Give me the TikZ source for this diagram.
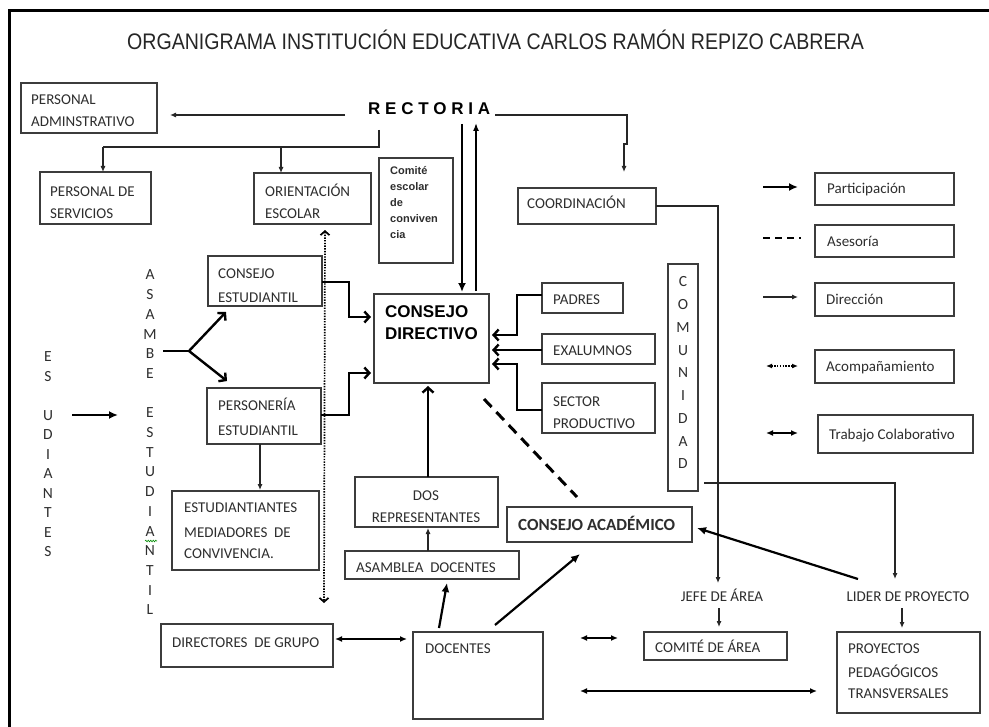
\documentclass[tikz,border=0pt]{standalone}
\usepackage{graphicx}
\usepackage{fontspec}
\setmainfont{Carlito}
\newfontfamily\arialf{Liberation Sans}
\usetikzlibrary{arrows.meta,decorations.pathmorphing}
\definecolor{ink}{HTML}{2E2E2E}
\definecolor{edge}{HTML}{3C3C3C}
\newcommand\bx[5]{\node[boxst, anchor=north west, minimum width={(#4-#2)*1bp}, minimum height={(#5-#3)*1bp}] (#1) at (#2,#3) {};}
\begin{document}
\begin{tikzpicture}[x=1bp,y=-1bp,
  boxst/.style={draw=edge, line width=1.3bp, inner sep=0pt, outer sep=0pt},
  txt/.style={inner sep=0pt, anchor=base west, text=ink, font=\fontsize{15bp}{18bp}\selectfont},
  txtc/.style={txt, anchor=base},
  vlet/.style={inner sep=0pt, text=ink, font=\fontsize{15.5bp}{16bp}\selectfont},
  bolda/.style={inner sep=0pt, anchor=base west, text=black, font=\arialf\bfseries\fontsize{17bp}{20bp}\selectfont},
  smallb/.style={inner sep=0pt, anchor=base west, text=ink, font=\arialf\bfseries\fontsize{11bp}{13bp}\selectfont},
  plain/.style={line width=1.1bp, draw=black!85},
  dirthin/.style={plain, -{Latex[length=6bp,width=5bp]}},
  partb/.style={line width=2.4bp, -{Straight Barb[length=5bp,width=11bp]}},
  partf/.style={line width=2.4bp, -{Latex[length=9bp,width=8bp]}},
  collab/.style={line width=1.5bp, {Latex[length=7bp,width=6bp]}-{Latex[length=7bp,width=6bp]}},
  acomp/.style={line width=1.7bp, dash pattern=on 1.4bp off 1.3bp, {Straight Barb[length=4bp,width=9bp]}-{Straight Barb[length=4bp,width=9bp]}},
  acompl/.style={line width=1.3bp, dash pattern=on 1.4bp off 1.4bp, {Latex[length=6bp,width=5bp]}-{Latex[length=6bp,width=5bp]}},
  asesor/.style={line width=3bp, dash pattern=on 11bp off 7bp}
]
\useasboundingbox (0,0) rectangle (989,727);
\fill[white] (0,0) rectangle (989,727);
% frame
\draw[line width=3bp] (9,732) -- (9,11) -- (994,11);

% title
\node[inner sep=0pt, anchor=base west, text=black!85, font=\arialf\fontsize{22.5bp}{27bp}\selectfont] (title) at (127,50)
  {\scalebox{0.87}[1]{ORGANIGRAMA INSTITUCIÓN EDUCATIVA CARLOS RAMÓN REPIZO CABRERA}};

% RECTORIA
\node[bolda] (rect) at (368,115) {R E C T O R I A};

% boxes
\bx{pa}{21}{83}{157}{133}
\bx{ps}{40}{172}{151}{224}
\bx{oe}{254}{173}{371}{224}
\bx{cec}{379}{158}{453}{263}
\bx{co}{518}{188}{656}{224}
\bx{lp}{815}{173}{954}{205}
\bx{la}{815}{225}{954}{257}
\bx{ld}{815}{283}{954}{316}
\bx{lc}{815}{350}{954}{383}
\bx{lt}{818}{415}{973}{453}
\bx{cest}{208}{256}{322}{306}
\bx{pers}{207}{388}{321}{444}
\bx{cd}{374}{294}{489}{383}
\bx{pad}{542}{283}{623}{313}
\bx{exa}{542}{334}{655}{364}
\bx{sec}{542}{383}{655}{433}
\bx{comu}{668}{264}{698}{491}
\bx{med}{172}{491}{319}{570}
\bx{dos}{355}{477}{498}{527}
\bx{asd}{345}{551}{519}{579}
\bx{dgr}{161}{624}{333}{667}
\bx{doc}{413}{632}{543}{719}
\bx{ca}{507}{507}{692}{542}
\bx{cda}{644}{632}{787}{660}
\bx{ppt}{837}{632}{980}{713}

% box texts
\node[txt] (pa1) at (31,105) {PERSONAL};
\node[txt] (pa2) at (31,127) {ADMINSTRATIVO};
\node[txt] (ps1) at (50,197) {PERSONAL DE};
\node[txt] (ps2) at (50,218) {SERVICIOS};
\node[txt] (oe1) at (265,197) {ORIENTACIÓN};
\node[txt] (oe2) at (265,218) {ESCOLAR};
\node[smallb] (cec1) at (390,175) {Comité};
\node[smallb] (cec2) at (390,191) {escolar};
\node[smallb] (cec3) at (390,206) {de};
\node[smallb] (cec4) at (390,222) {conviven};
\node[smallb] (cec5) at (390,238) {cia};
\node[txt] (co1) at (527,208) {COORDINACIÓN};
\node[txt] (lp1) at (827,194) {Participación};
\node[txt] (la1) at (827,246) {Asesoría};
\node[txt] (ld1) at (826,304) {Dirección};
\node[txt] (lc1) at (826,371) {Acompañamiento};
\node[txt] (lt1) at (829,439) {Trabajo Colaborativo};
\node[txt] (cest1) at (218,278) {CONSEJO};
\node[txt] (cest2) at (218,302) {ESTUDIANTIL};
\node[txt] (pers1) at (218,410) {PERSONERÍA};
\node[txt] (pers2) at (218,435) {ESTUDIANTIL};
\node[bolda] (cd1) at (385,317) {CONSEJO};
\node[bolda] (cd2) at (385,339) {DIRECTIVO};
\node[txt] (pad1) at (553,304) {PADRES};
\node[txt] (exa1) at (553,355) {EXALUMNOS};
\node[txt] (sec1) at (553,406) {SECTOR};
\node[txt] (sec2) at (553,428) {PRODUCTIVO};
\node[txt] (med1) at (184,512) {ESTUDIANTIANTES};
\node[txt] (med2) at (184,537) {MEDIADORES\ \ DE};
\node[txt] (med3) at (184,558) {CONVIVENCIA.};
\node[txtc] (dos1) at (426,500) {DOS};
\node[txtc] (dos2) at (426,522) {REPRESENTANTES};
\node[txt] (asd1) at (356,572) {ASAMBLEA\ \ DOCENTES};
\node[txt] (dgr1) at (172,647) {DIRECTORES\ \ DE GRUPO};
\node[txt] (doc1) at (425,653) {DOCENTES};
\node[txt, font=\bfseries\fontsize{17bp}{20bp}\selectfont] (ca1) at (518,530) {CONSEJO ACADÉMICO};
\node[txtc] (jefe) at (722,601) {JEFE DE ÁREA};
\node[txtc] (lider) at (908,601) {LIDER DE PROYECTO};
\node[txt] (cda1) at (655,652) {COMITÉ DE ÁREA};
\node[txt] (ppt1) at (848,653) {PROYECTOS};
\node[txt] (ppt2) at (848,677) {PEDAGÓGICOS};
\node[txt] (ppt3) at (848,698) {TRANSVERSALES};

% vertical words
\foreach \l [count=\i from 0] in {E,S,{},U,D,I,A,N,T,E,S}
  \node[vlet] (es\i) at (48,{357+19.5*\i}) {\l};
\foreach \l [count=\i from 0] in {A,S,A,M,B,E,{},E,S,T,U,D,I,A,N,T,I,L}
  \node[vlet] (as\i) at (150,{275+19.7*\i}) {\l};
\foreach \l [count=\i from 0] in {C,O,M,U,N,I,D,A,D}
  \node[vlet] (cm\i) at (683,{282+22.75*\i}) {\l};
\draw[green!55!black, line width=0.6bp, decorate, decoration={snake, amplitude=0.8bp, segment length=2.5bp}] (145,541) -- (157,541);

% legend connectors
\draw[partf, line width=2bp] (763,187) -- (798,187);
\draw[line width=2.6bp, dash pattern=on 7bp off 5bp] (763,238) -- (801,238);
\draw[dirthin] (763,297) -- (798,297);
\draw[acompl] (766,366) -- (798,366);
\draw[collab] (766,433) -- (798,433);

% RECTORIA connections
\draw[dirthin] (345,115) -- (170,115);
\draw[plain] (379,130) -- (379,147) -- (103,147);
\draw[dirthin] (103,147) -- (103,172);
\draw[dirthin] (281,147) -- (281,173);
\draw[partf, line width=2.2bp] (462,124) -- (462,292);
\draw[line width=1.5bp, -{Latex[length=8bp,width=6bp]}] (476,291) -- (476,123);
\draw[dirthin] (495,115) -- (627,115) -- (627,144) -- (624,144) -- (624,172);

% coordination / community
\draw[dirthin] (co.east |- 0,206) -- (718,206) -- (718,583);
\draw[dirthin] (719,608) -- (719,627);
\draw[dirthin] (704,483) -- (895,483) -- (895,579);
\draw[dirthin] (902,608) -- (902,628);

% students
\draw[partf, line width=2.2bp] (72,415) -- (118,415);
\draw[line width=2.4bp] (163,351) -- (189,351);
\draw[partb] (189,351) -- (226,312);
\draw[partb] (189,351) -- (227,381);
\draw[partb] (cest.east |- 0,282) -- (349,282) -- (349,317) -- (371,317);
\draw[partb] (pers.east |- 0,415) -- (349,415) -- (349,373) -- (371,373);
\draw[dirthin] (260,444) -- (260,490);
\draw[acomp] (325,230) -- (324,603);

% right side into consejo directivo
\draw[partb] (pad.west |- 0,295) -- (517,295) -- (517,335) -- (492,335);
\draw[partb] (exa.west |- 0,350) -- (492,350);
\draw[partb] (sec.west |- 0,410) -- (517,410) -- (517,364) -- (492,364);

% docentes chain
\draw[partb] (428,477) -- (428,386);
\draw[dirthin] (428,551) -- (428,528);
\draw[partf, line width=2.2bp] (439,628) -- (447,583);
\draw[partf, line width=2.2bp] (495,625) -- (580,554);
\draw[partf, line width=2.2bp] (858,579) -- (697,528);
\draw[asesor] (484,399) -- (577,497);

% collaboration
\draw[collab] (335,639) -- (407,639);
\draw[collab] (580,638) -- (618,638);
\draw[collab] (580,691) -- (817,691);
\end{tikzpicture}
\end{document}
